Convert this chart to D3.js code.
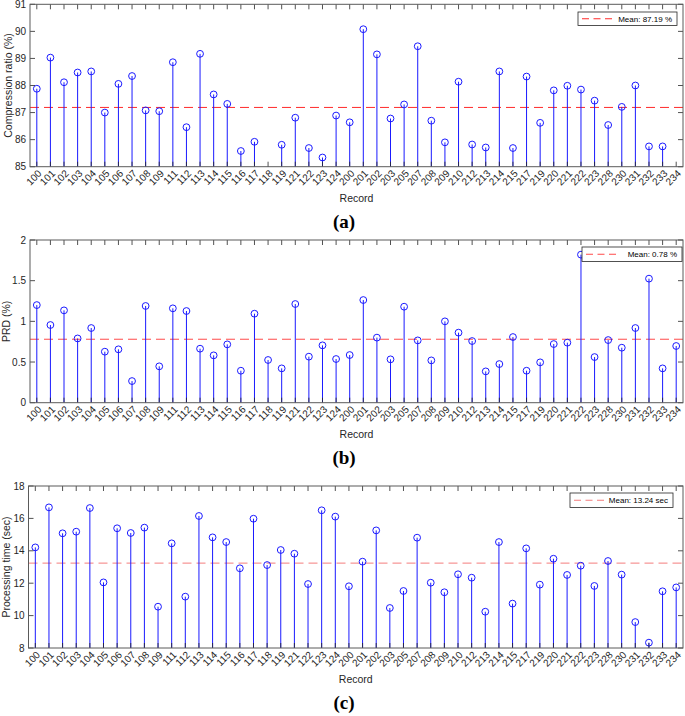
<!DOCTYPE html>
<html>
<head>
<meta charset="utf-8">
<script src="https://cdn.jsdelivr.net/npm/d3@7"></script>
<style>
  body { margin: 0; background: #fff; }
  svg { display: block; font-family: "Liberation Sans", Arial, sans-serif; }
  .tick-label { font-size: 10px; fill: #262626; }
  .axis-title { font-size: 10.5px; fill: #262626; }
  .panel-label { font-family: "Liberation Serif", "Times New Roman", serif; font-weight: bold; font-size: 19px; fill: #000; }
  .legend-text { font-size: 8px; fill: #000; }
</style>
</head>
<body>
<svg id="chart"></svg>
<script>
// record numbers (x categories)
const records = ["100","101","102","103","104","105","106","107","108","109","111","112","113","114","115","116","117","118","119","121","122","123","124",
  "200","201","202","203","205","207","208","209","210","212","213","214","215","217","219","220","221","222","223","228","230","231","232","233","234"];

// (a) compression ratio (%)
const crValues = [87.88,89.03,88.12,88.48,88.52,87.00,88.06,88.35,87.08,87.05,88.86,86.46,89.17,87.67,87.32,85.58,85.92,84.8,85.81,86.81,85.69,85.34,86.89,
  86.64,90.08,89.15,86.78,87.30,89.45,86.70,85.90,88.14,85.82,85.71,88.52,85.69,88.33,86.62,87.82,87.99,87.85,87.44,86.54,87.21,88.00,85.75,85.75,84.8];
const crMean = 87.19;
const crTicks = [85,86,87,88,89,90,91];

// (b) PRD (%)
const prdValues = [1.20,0.955,1.135,0.79,0.918,0.627,0.656,0.266,1.189,0.447,1.16,1.127,0.664,0.582,0.717,0.393,1.094,0.525,0.422,1.213,0.566,0.705,0.537,
  0.586,1.262,0.80,0.533,1.18,0.766,0.52,1.0,0.861,0.758,0.385,0.475,0.807,0.393,0.496,0.721,0.738,1.82,0.561,0.77,0.676,0.918,1.525,0.422,0.697];
const prdMean = 0.78;
const prdTicks = [0,0.5,1,1.5,2];

// (c) processing time (sec)
const timeValues = [14.21,16.68,15.08,15.18,16.64,12.05,15.39,15.10,15.43,10.55,14.46,11.17,16.15,14.83,14.54,12.92,15.98,13.12,14.05,13.82,11.95,16.50,16.11,
  11.81,13.33,15.26,10.47,11.52,14.81,12.03,11.44,12.55,12.34,10.24,14.54,10.74,14.15,11.91,13.51,12.51,13.08,11.83,13.37,12.53,9.60,8.33,11.50,11.74];
const timeMean = 13.24;
const timeTicks = [8,10,12,14,16,18];

const width = 685, height = 716;
const svg = d3.select("#chart").attr("width", width).attr("height", height);

const panels = [
  { id: "a", values: crValues, mean: crMean, ticks: crTicks, yTitle: "Compression ratio (%)",
    legend: "Mean: 87.19 %", meanColor: "#ff2a2a",
    left: 30, right: 683, top: 4.3, bottom: 166.7, titleX: 8,
    legBox: [578, 12, 99, 13.5] },
  { id: "b", values: prdValues, mean: prdMean, ticks: prdTicks, yTitle: "PRD (%)",
    legend: "Mean: 0.78 %", meanColor: "#ff4a4a",
    left: 30, right: 683, top: 240, bottom: 402.7, titleX: 6,
    legBox: [582, 247, 100, 14.5] },
  { id: "c", values: timeValues, mean: timeMean, ticks: timeTicks, yTitle: "Processing time (sec)",
    legend: "Mean: 13.24 sec", meanColor: "#f47c7c",
    left: 28.5, right: 683, top: 486, bottom: 648, titleX: 6,
    legBox: [570, 493, 103, 14.5] }
];

const axisColor = "#262626";
const stemColor = "#1a1aff";

panels.forEach(p => {
  const x = d3.scalePoint().domain(records).range([p.left, p.right]).padding(0.5);
  const y = d3.scaleLinear().domain(d3.extent(p.ticks)).range([p.bottom, p.top]);
  const g = svg.append("g");

  g.append("clipPath").attr("id", "clip-" + p.id)
    .append("rect")
    .attr("x", p.left).attr("y", p.top)
    .attr("width", p.right - p.left).attr("height", p.bottom - p.top);

  const plot = g.append("g").attr("clip-path", `url(#clip-${p.id})`);

  // mean line
  plot.append("line")
    .attr("x1", p.left).attr("x2", p.right)
    .attr("y1", y(p.mean)).attr("y2", y(p.mean))
    .attr("stroke", p.meanColor).attr("stroke-width", 1)
    .attr("stroke-dasharray", "9,5");

  // stems
  plot.selectAll(".stem").data(p.values).join("line")
    .attr("x1", (d, i) => x(records[i])).attr("x2", (d, i) => x(records[i]))
    .attr("y1", p.bottom).attr("y2", d => y(d))
    .attr("stroke", stemColor).attr("stroke-width", 1);

  plot.selectAll(".marker").data(p.values).join("circle")
    .attr("cx", (d, i) => x(records[i])).attr("cy", d => y(d))
    .attr("r", 3.4)
    .attr("fill", "none").attr("stroke", stemColor).attr("stroke-width", 1);

  // ticks inside the box (bottom/top per record, left/right per y value)
  const ticks = g.append("g").attr("stroke", axisColor).attr("stroke-width", 0.8);
  records.forEach(r => {
    ticks.append("line").attr("x1", x(r)).attr("x2", x(r)).attr("y1", p.bottom).attr("y2", p.bottom - 5);
    ticks.append("line").attr("x1", x(r)).attr("x2", x(r)).attr("y1", p.top).attr("y2", p.top + 5);
  });
  p.ticks.forEach(v => {
    ticks.append("line").attr("x1", p.left).attr("x2", p.left + 5).attr("y1", y(v)).attr("y2", y(v));
    ticks.append("line").attr("x1", p.right).attr("x2", p.right - 5).attr("y1", y(v)).attr("y2", y(v));
  });

  // box
  g.append("rect")
    .attr("x", p.left).attr("y", p.top)
    .attr("width", p.right - p.left).attr("height", p.bottom - p.top)
    .attr("fill", "none").attr("stroke", "#5a5a5a").attr("stroke-width", 1);

  // y tick labels
  g.selectAll(".ylab").data(p.ticks).join("text")
    .attr("class", "tick-label")
    .attr("x", p.left - 4).attr("y", d => y(d)).attr("dy", "0.35em")
    .attr("text-anchor", "end")
    .text(d => String(d));

  // x tick labels, rotated
  g.selectAll(".xlab").data(records).join("text")
    .attr("class", "tick-label")
    .attr("transform", d => `translate(${x(d) + 3},${p.bottom + 5}) rotate(-45)`)
    .attr("text-anchor", "end")
    .attr("dy", "0.35em")
    .text(d => d);

  // axis titles
  g.append("text").attr("class", "axis-title")
    .attr("x", (p.left + p.right) / 2).attr("y", p.bottom + 35)
    .attr("text-anchor", "middle").text("Record");

  g.append("text").attr("class", "axis-title")
    .attr("transform", `translate(${p.titleX},${(p.top + p.bottom) / 2}) rotate(-90)`)
    .attr("dy", "0.35em")
    .attr("text-anchor", "middle").text(p.yTitle);

  // legend
  const [lx, ly, lw, lh] = p.legBox;
  const leg = g.append("g");
  leg.append("rect").attr("x", lx).attr("y", ly).attr("width", lw).attr("height", lh)
    .attr("fill", "#fff").attr("stroke", "#262626").attr("stroke-width", 0.8);
  leg.append("line")
    .attr("x1", lx + 4).attr("x2", lx + 34)
    .attr("y1", ly + lh / 2).attr("y2", ly + lh / 2)
    .attr("stroke", p.meanColor).attr("stroke-width", 1)
    .attr("stroke-dasharray", "7,4.5");
  leg.append("text").attr("class", "legend-text")
    .attr("x", lx + lw - 5).attr("y", ly + lh / 2).attr("dy", "0.35em")
    .attr("text-anchor", "end").text(p.legend);

  // panel label
  svg.append("text").attr("class", "panel-label")
    .attr("x", 344).attr("y", p.bottom + 61)
    .attr("text-anchor", "middle").text(`(${p.id})`);
});
</script>
</body>
</html>
